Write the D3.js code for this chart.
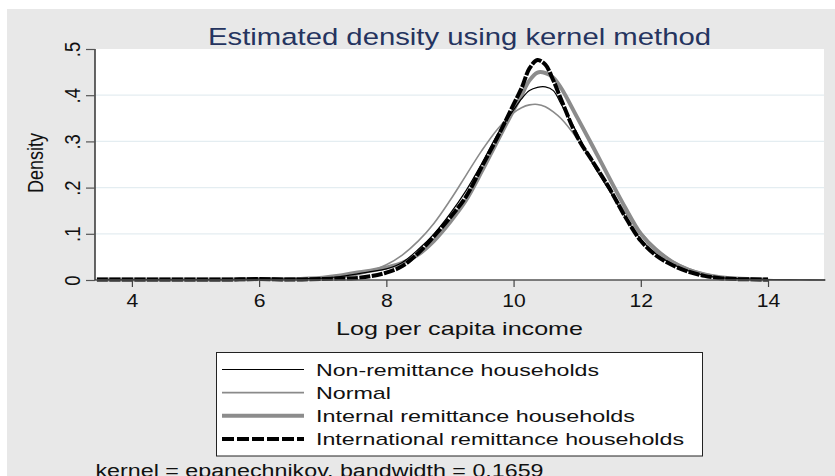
<!DOCTYPE html>
<html>
<head>
<meta charset="utf-8">
<script src="https://cdn.jsdelivr.net/npm/d3@7"></script>
<style>
  body { margin: 0; background: #fff; }
  text { font-family: "Liberation Sans", Arial, Helvetica, sans-serif; }
</style>
</head>
<body>
<div id="chart"></div>
<script>
let w = 835;
let h = 476;

// log per capita income grid
let incomeGrid = [3.45, 4, 4.5, 5, 5.5, 6, 6.5, 7, 7.25, 7.5, 7.75, 8, 8.25, 8.5, 8.75, 9, 9.25, 9.5, 9.75, 10,
    10.125, 10.25, 10.375, 10.5, 10.625, 10.75, 11, 11.25, 11.5, 11.75, 12, 12.25, 12.5, 12.75, 13, 13.25, 13.5, 14, 14.5, 14.9];

let nonRemittance = [0.001, 0.001, 0.001, 0.001, 0.001, 0.002, 0.002, 0.004, 0.007, 0.012, 0.018, 0.024, 0.038, 0.066, 0.1, 0.143, 0.193, 0.252, 0.316, 0.368,
    0.392, 0.41, 0.417, 0.418, 0.41, 0.38, 0.318, 0.25, 0.195, 0.138, 0.088, 0.055, 0.034, 0.02, 0.01, 0.005, 0.003, 0.001, 0.0005, 0];

let normalFit = [0, 0, 0, 0, 0, 0, 0.001, 0.003, 0.005, 0.01, 0.019, 0.033, 0.054, 0.084, 0.123, 0.172, 0.226, 0.28, 0.327, 0.362,
    0.373, 0.379, 0.38, 0.375, 0.364, 0.349, 0.306, 0.255, 0.2, 0.148, 0.103, 0.068, 0.042, 0.025, 0.014, 0.007, 0.004, 0.001, 0, 0];

let internalRem = [0.001, 0.001, 0.001, 0.001, 0.001, 0.002, 0.002, 0.005, 0.009, 0.015, 0.02, 0.027, 0.037, 0.055, 0.085, 0.125, 0.172, 0.235, 0.302, 0.368,
    0.4, 0.432, 0.449, 0.448, 0.438, 0.415, 0.352, 0.288, 0.222, 0.158, 0.1, 0.063, 0.038, 0.022, 0.012, 0.006, 0.003, 0.001, null, null];

let internationalRem = [0.001, 0.001, 0.001, 0.001, 0.001, 0.002, 0.001, 0.002, 0.003, 0.004, 0.008, 0.016, 0.03, 0.058, 0.095, 0.135, 0.18, 0.245, 0.31, 0.38,
    0.415, 0.458, 0.476, 0.466, 0.432, 0.39, 0.31, 0.255, 0.2, 0.138, 0.085, 0.052, 0.032, 0.018, 0.009, 0.004, 0.002, 0.001, null, null];

let xTicks = [4, 6, 8, 10, 12, 14];
let yTicks = [0, 0.1, 0.2, 0.3, 0.4, 0.5];
let yTickLabels = ["0", ".1", ".2", ".3", ".4", ".5"];
let legendLabels = ["Non-remittance households", "Normal", "Internal remittance households", "International remittance households"];

let series = [
    {name: legendLabels[0], values: nonRemittance, color: "#000", width: 1.2, dash: null},
    {name: legendLabels[1], values: normalFit, color: "#8a8a8a", width: 1.6, dash: null},
    {name: legendLabels[2], values: internalRem, color: "#8c8c8c", width: 4, dash: null},
    {name: legendLabels[3], values: internationalRem, color: "#000", width: 4, dash: "11,1.5"}
];

let svg = d3.select("#chart").append("svg")
    .attr("width", w)
    .attr("height", h);

// outer grey panel
svg.append("rect")
    .attr("x", 7).attr("y", 9)
    .attr("width", w - 7).attr("height", h - 9)
    .attr("fill", "#e8e8e8");

let plotLeft = 95, plotRight = 824, plotTop = 49, plotBottom = 280;

svg.append("rect")
    .attr("x", plotLeft).attr("y", plotTop)
    .attr("width", plotRight - plotLeft).attr("height", plotBottom - plotTop)
    .attr("fill", "#fff");

let xScale = d3.scaleLinear().domain([3.42, 14.88]).range([plotLeft, plotRight]);
let yScale = d3.scaleLinear().domain([0, 0.5]).range([plotBottom, plotTop]);

// grid lines
svg.append("g").selectAll("line")
    .data(yTicks.filter(d => d > 0 && d < 0.5))
    .join("line")
    .attr("x1", plotLeft).attr("x2", plotRight)
    .attr("y1", d => yScale(d)).attr("y2", d => yScale(d))
    .attr("stroke", "#e4edf1")
    .attr("stroke-width", 1.2);

// curves, drawn internal first so the thin ones stay visible
let drawOrder = [series[2], series[1], series[0], series[3]];
let line = d3.line()
    .defined(d => d[1] != null)
    .x(d => xScale(d[0]))
    .y(d => yScale(d[1]))
    .curve(d3.curveCatmullRom.alpha(0.5));

svg.append("g").selectAll("path")
    .data(drawOrder)
    .join("path")
    .attr("d", s => line(incomeGrid.map((x, i) => [x, s.values[i]])))
    .attr("fill", "none")
    .attr("stroke", s => s.color)
    .attr("stroke-width", s => s.width)
    .attr("stroke-dasharray", s => s.dash)
    .attr("stroke-linejoin", "round");

// x axis
let xAxis = svg.append("g")
    .attr("transform", "translate(0," + plotBottom + ")")
    .call(d3.axisBottom(xScale).tickValues(xTicks).tickSize(7).tickSizeOuter(0).tickPadding(6));
xAxis.select(".domain").attr("stroke", "#555").attr("stroke-width", 1.5).attr("d", "M" + plotLeft + ",0H" + plotRight);
xAxis.selectAll(".tick line").attr("stroke", "#444").attr("stroke-width", 1.2);
xAxis.selectAll(".tick text")
    .attr("font-size", 18.5)
    .attr("fill", "#111")
    .attr("dy", null)
    .attr("y", 26.7)
    .attr("textLength", d => d >= 10 ? 23.5 : 11.8)
    .attr("lengthAdjust", "spacingAndGlyphs");

// y axis
let yAxis = svg.append("g")
    .attr("transform", "translate(" + plotLeft + ",0)")
    .call(d3.axisLeft(yScale).tickValues(yTicks).tickSize(9).tickSizeOuter(0)
        .tickFormat((d, i) => yTickLabels[i]));
yAxis.select(".domain").attr("stroke", "#333").attr("stroke-width", 1.5).attr("d", "M0," + plotTop + "V" + plotBottom);
yAxis.selectAll(".tick line").attr("stroke", "#555").attr("stroke-width", 1.2);
yAxis.selectAll(".tick text")
    .attr("x", null).attr("dy", null)
    .attr("font-size", 18.5)
    .attr("fill", "#111")
    .attr("text-anchor", "middle")
    .attr("transform", "translate(-15,0) scale(1.2,1) rotate(-90)");

// titles
svg.append("text")
    .attr("x", 208).attr("y", 45)
    .attr("font-size", 24.5)
    .attr("fill", "#25345f")
    .attr("textLength", 503)
    .attr("lengthAdjust", "spacingAndGlyphs")
    .text("Estimated density using kernel method");

svg.append("text")
    .attr("x", 336).attr("y", 335)
    .attr("font-size", 18.5)
    .attr("fill", "#111")
    .attr("textLength", 247)
    .attr("lengthAdjust", "spacingAndGlyphs")
    .text("Log per capita income");

svg.append("text")
    .attr("transform", "translate(43,163) scale(1.2,1) rotate(-90)")
    .attr("text-anchor", "middle")
    .attr("font-size", 18)
    .attr("fill", "#111")
    .text("Density");

// legend
let legend = svg.append("g");
legend.append("rect")
    .attr("x", 216.5).attr("y", 352.5)
    .attr("width", 486).attr("height", 103.5)
    .attr("fill", "#fff")
    .attr("stroke", "#222")
    .attr("stroke-width", 1);

let legendWidths = [283, 75, 319, 368];
let rowY = d3.scaleLinear().domain([0, 3]).range([369.5, 439]);
let rows = legend.selectAll(".row").data(series).join("g")
    .attr("class", "row")
    .attr("transform", (d, i) => "translate(0," + rowY(i) + ")");
rows.append("line")
    .attr("x1", 222).attr("x2", 304)
    .attr("stroke", d => d.color)
    .attr("stroke-width", d => d.width)
    .attr("stroke-dasharray", d => d.dash ? "12,3" : null);
rows.append("text")
    .attr("x", 316).attr("y", 6)
    .attr("font-size", 17)
    .attr("fill", "#111")
    .attr("textLength", (d, i) => legendWidths[i])
    .attr("lengthAdjust", "spacingAndGlyphs")
    .text(d => d.name);

// note (cut by the bottom edge, as in the original)
svg.append("text")
    .attr("x", 95.5).attr("y", 477)
    .attr("font-size", 18)
    .attr("fill", "#111")
    .attr("textLength", 448)
    .attr("lengthAdjust", "spacingAndGlyphs")
    .text("kernel = epanechnikov, bandwidth = 0.1659");
</script>
</body>
</html>
